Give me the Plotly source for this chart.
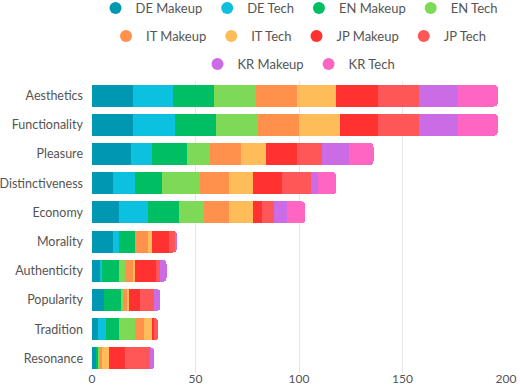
import plotly.graph_objects as go

categories = ["Aesthetics", "Functionality", "Pleasure", "Distinctiveness", "Economy",
              "Morality", "Authenticity", "Popularity", "Tradition", "Resonance"]

series_names = ["DE Makeup", "DE Tech", "EN Makeup", "EN Tech", "IT Makeup",
                "IT Tech", "JP Makeup", "JP Tech", "KR Makeup", "KR Tech"]

de_makeup = [20, 20, 19, 10, 13, 10, 4, 6, 3, 2]
de_tech   = [19, 20, 10, 11, 14, 3, 1, 0, 4, 0]
en_makeup = [20, 20, 17, 13, 15, 8, 8, 8, 6, 1]
en_tech   = [20, 20, 11, 18, 12, 0, 3, 1, 8, 1]
it_makeup = [20, 20, 15, 14, 12, 6, 4, 2, 4, 1]
it_tech   = [19, 20, 12, 12, 12, 2, 1, 1, 4, 3]
jp_makeup = [20, 18, 15, 14, 4, 8, 10, 5, 1, 8]
jp_tech   = [20, 20, 12, 14, 6, 3, 2, 7, 2, 12]
kr_makeup = [19, 19, 13, 3, 6, 1, 3, 3, 0, 2]
kr_tech   = [19, 19, 12, 9, 9, 0, 0, 0, 0, 0]

series_values = [de_makeup, de_tech, en_makeup, en_tech, it_makeup,
                 it_tech, jp_makeup, jp_tech, kr_makeup, kr_tech]

x_ticks = [0, 50, 100, 150, 200]

colors = ["#0097b2", "#0cc0df", "#00bf63", "#7ed957", "#ff914d",
          "#ffbd59", "#ff3131", "#ff5757", "#cb6ce6", "#ff66c4"]

legend_of = ["legend", "legend", "legend", "legend",
             "legend2", "legend2", "legend2", "legend2",
             "legend3", "legend3"]

FONT = "Lato"
TXT = "#555555"

fig = go.Figure()
for name, vals, col in zip(series_names, series_values, colors):
    fig.add_trace(go.Bar(
        name=name, y=categories, x=vals, orientation="h",
        marker=dict(color=col, line=dict(width=0)),
        showlegend=False, legendgroup=name,
    ))

for name, col, lg in zip(series_names, colors, legend_of):
    fig.add_trace(go.Scatter(
        name=name, x=[None], y=[None], mode="markers",
        marker=dict(color=col, size=12, symbol="circle"),
        legendgroup=name, legend=lg, showlegend=True,
    ))

leg_common = dict(orientation="h", xref="paper", x=0.5, xanchor="center",
                  yref="container", yanchor="middle",
                  font=dict(family=FONT, size=13, color=TXT),
                  bgcolor="rgba(0,0,0,0)", itemclick=False, itemdoubleclick=False)

fig.update_layout(
    width=520, height=387,
    barmode="stack", bargap=0.25,
    barcornerradius=4,
    margin=dict(l=92, r=14, t=81, b=14),
    plot_bgcolor="white", paper_bgcolor="white",
    font=dict(family=FONT, size=13, color=TXT),
    legend=dict(**leg_common, y=1 - 8 / 387),
    legend2=dict(**leg_common, y=1 - 36 / 387),
    legend3=dict(**leg_common, y=1 - 64 / 387),
    xaxis=dict(range=[0, 200], tickvals=x_ticks, showgrid=True, gridcolor="#e6e6e6",
               gridwidth=1, zeroline=False, showline=False, ticks="",
               ticklabelstandoff=-3,
               tickfont=dict(family=FONT, size=12, color=TXT), automargin=False),
    yaxis=dict(autorange="reversed", showgrid=False, zeroline=False, showline=False,
               ticks="", ticklabelstandoff=8,
               tickfont=dict(family=FONT, size=12.5, color=TXT), automargin=False),
)

fig.write_html("out.html", config={"displayModeBar": False},
               post_script="document.body.style.margin='0';document.body.style.padding='0';")
